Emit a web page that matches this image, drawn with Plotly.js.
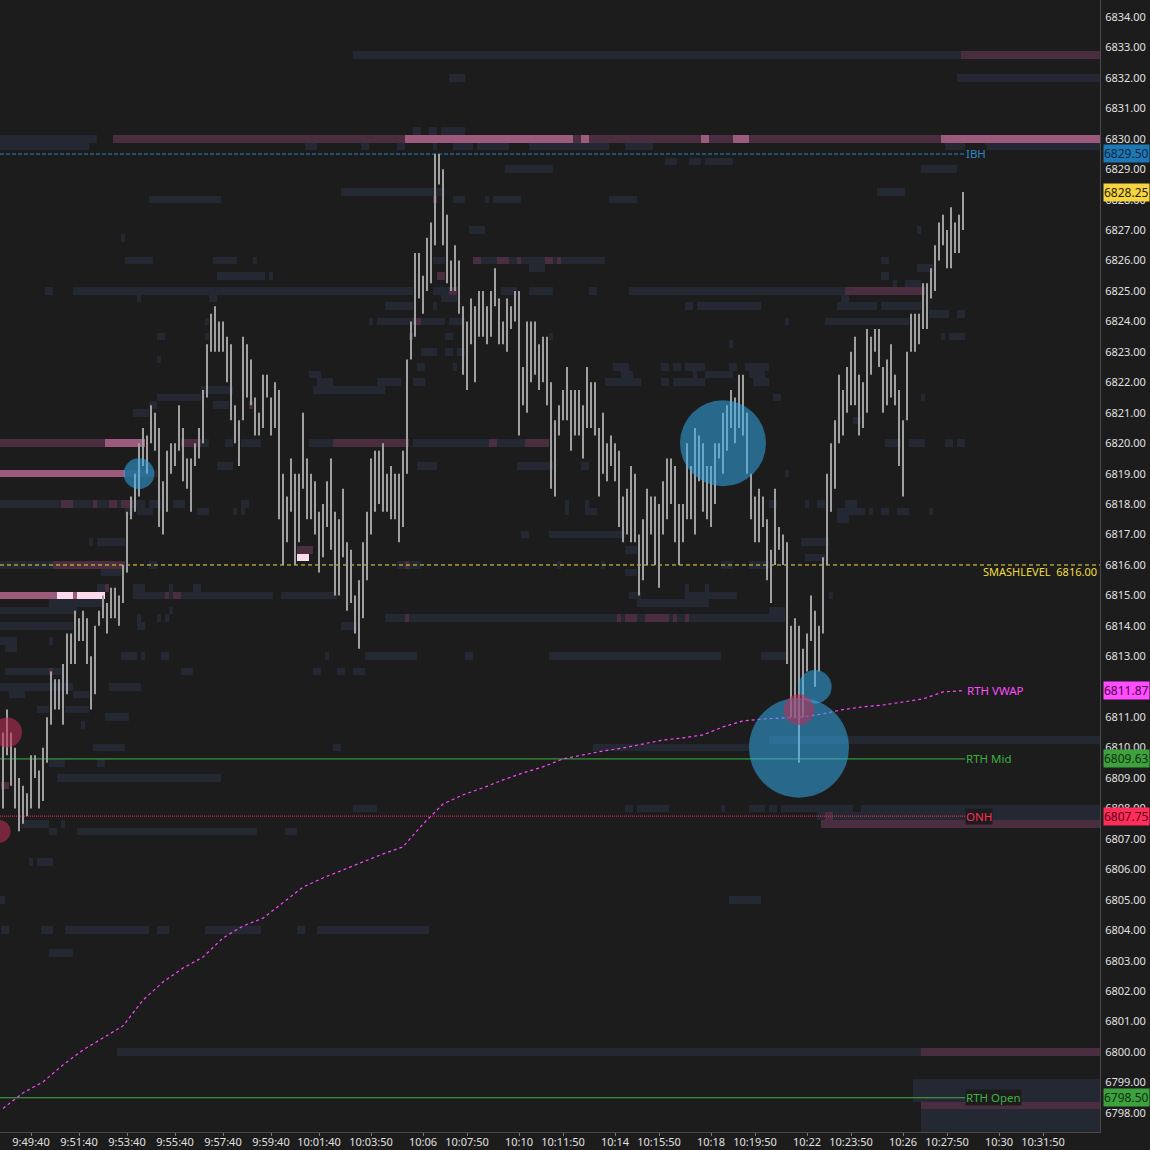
<!DOCTYPE html>
<html><head><meta charset="utf-8">
<script src="https://cdn.plot.ly/plotly-3.0.1.min.js"></script>
<style>html,body{margin:0;padding:0;background:#1c1c1c;}#chart{width:1150px;height:1150px;}</style>
</head><body><div id="chart"></div>
<script>
// ---------------- DATA ----------------
const firstBarTime = '09:48:30';
const barSeconds = 10;
const viewStart = '09:48:22.5';
const viewEnd = '10:34:12.5';
const labelTime = '10:28:35';
const priceMin = 6797.375, priceMax = 6834.558;

const barHigh = [6810.5,6811.25,6810.5,6810.0,6809.0,6808.75,6808.5,6809.75,6809.75,6809.25,
6810.0,6811.0,6812.5,6812.25,6812.25,6812.75,6813.75,6813.75,6814.5,6814.25,
6814.5,6814.25,6813.0,6814.0,6814.5,6815.0,6814.75,6815.25,6815.25,6815.0,
6816.0,6817.75,6818.25,6819.0,6820.0,6820.5,6820.25,6821.25,6821.0,6820.5,
6818.75,6819.75,6820.0,6820.0,6821.25,6820.5,6819.5,6819.5,6820.0,6820.5,
6821.75,6823.25,6824.25,6824.5,6824.0,6824.0,6823.5,6823.25,6821.25,6820.75,
6823.5,6823.25,6822.75,6821.5,6821.0,6822.25,6822.25,6821.5,6822.0,6821.75,
6819.0,6818.25,6819.5,6819.0,6819.0,6821.0,6819.5,6819.0,6818.75,6817.75,
6818.0,6818.75,6819.5,6817.75,6817.5,6818.5,6816.75,6816.5,6815.0,6815.5,
6816.75,6817.75,6819.5,6819.75,6819.75,6820.0,6819.0,6819.25,6819.0,6819.0,
6819.75,6822.75,6824.0,6826.25,6826.25,6825.5,6826.75,6827.25,6829.5,6829.5,
6829.0,6827.5,6826.0,6826.5,6826.0,6824.5,6824.0,6824.75,6824.5,6825.0,
6825.0,6824.5,6825.0,6825.75,6824.75,6824.0,6824.75,6824.5,6825.0,6825.0,
6822.5,6824.0,6824.0,6824.0,6823.25,6823.5,6823.5,6822.0,6820.75,6821.25,
6821.75,6822.5,6821.75,6821.75,6821.75,6821.25,6822.5,6822.0,6822.0,6820.5,
6821.0,6820.0,6820.25,6820.0,6819.75,6818.25,6818.5,6819.25,6819.0,6817.0,
6817.5,6818.5,6818.25,6818.25,6818.0,6818.75,6819.5,6819.5,6819.25,6818.0,
6818.0,6820.0,6819.25,6820.5,6820.25,6820.0,6819.25,6819.25,6820.0,6820.0,
6821.0,6821.25,6821.75,6821.5,6822.25,6822.25,6821.0,6819.0,6818.25,6818.5,
6818.25,6817.5,6816.5,6818.5,6817.25,6817.0,6816.75,6814.0,6814.25,6814.0,
6813.25,6813.75,6815.0,6814.5,6814.0,6816.25,6819.0,6820.0,6820.75,6822.25,
6821.75,6822.5,6823.0,6823.5,6822.25,6822.0,6823.75,6823.5,6823.75,6823.75,
6822.5,6822.75,6823.25,6822.25,6821.75,6820.75,6823.0,6824.25,6824.25,6824.25,
6825.25,6825.25,6825.75,6826.5,6827.25,6827.5,6827.0,6827.75,6827.25,6827.5,
6828.25];
const barLow = [6808.0,6809.75,6808.75,6808.0,6807.25,6807.5,6807.75,6808.0,6809.0,6808.0,
6808.25,6809.5,6810.75,6811.25,6811.25,6810.75,6811.75,6812.75,6812.75,6813.5,
6813.5,6812.75,6811.25,6811.75,6814.0,6814.25,6813.75,6814.25,6814.25,6814.0,
6814.75,6815.75,6817.5,6817.75,6818.25,6819.25,6819.0,6820.0,6819.75,6817.25,
6817.0,6817.75,6819.0,6819.25,6819.75,6818.75,6818.5,6817.75,6819.25,6819.5,
6820.0,6821.5,6823.0,6823.0,6823.0,6823.0,6822.0,6820.75,6820.0,6819.25,
6820.75,6821.5,6821.25,6820.25,6820.25,6820.5,6821.5,6820.25,6820.5,6817.5,
6816.0,6816.75,6817.75,6816.0,6816.75,6818.5,6817.5,6817.5,6817.0,6815.75,
6816.25,6817.25,6816.5,6815.0,6815.0,6816.25,6814.5,6814.75,6813.75,6813.25,
6814.25,6815.5,6817.0,6817.75,6818.0,6817.75,6817.75,6817.5,6817.5,6816.75,
6817.25,6819.0,6822.75,6823.5,6824.75,6824.25,6825.0,6825.25,6826.5,6828.5,
6826.5,6825.25,6825.0,6825.0,6824.25,6822.25,6821.75,6823.25,6822.0,6823.5,
6823.5,6823.25,6823.5,6824.5,6823.25,6823.25,6823.0,6823.75,6824.0,6820.25,
6821.25,6821.0,6822.0,6822.25,6821.75,6822.0,6821.25,6818.5,6818.25,6820.25,
6820.75,6820.75,6819.75,6820.25,6820.25,6819.5,6820.5,6820.5,6820.25,6818.25,
6819.0,6818.75,6819.25,6818.75,6817.25,6816.75,6817.0,6816.75,6816.75,6815.0,
6815.5,6816.0,6817.0,6816.0,6815.25,6817.0,6817.5,6818.0,6816.75,6816.0,
6816.75,6817.5,6817.5,6817.0,6818.75,6817.75,6817.5,6817.25,6818.0,6819.5,
6819.0,6819.75,6820.5,6820.0,6820.5,6820.25,6819.0,6817.5,6816.75,6816.75,
6817.25,6815.5,6814.75,6816.0,6816.5,6816.0,6812.75,6811.0,6811.0,6809.5,
6811.0,6812.5,6813.5,6812.0,6812.5,6813.75,6816.0,6817.75,6818.5,6820.0,
6820.25,6821.0,6821.25,6821.25,6820.25,6820.5,6821.0,6822.25,6823.0,6822.5,
6821.0,6821.25,6821.5,6821.25,6819.25,6818.25,6820.75,6823.0,6823.0,6823.25,
6823.75,6823.75,6824.75,6825.0,6826.0,6826.5,6825.75,6825.75,6826.25,6826.25,
6827.0];

// RTH VWAP, one value every 5 bars
const vwapEveryBars = 5;
const vwap = [6798.15,6798.66,6799.02,6799.58,6800.07,6800.46,6800.86,6801.71,6802.30,6802.76,
6803.12,6803.75,6804.14,6804.40,6804.90,6805.42,6805.72,6805.98,6806.24,6806.51,
6806.74,6807.49,6808.15,6808.45,6808.68,6808.94,6809.17,6809.37,6809.63,6809.76,
6809.89,6809.99,6810.12,6810.25,6810.32,6810.42,6810.68,6810.88,6810.94,6810.97,
6811.01,6811.11,6811.25,6811.34,6811.40,6811.50,6811.60,6811.83,6811.87];

// key levels
const levelLabels = ['IBH','RTH Mid','ONH','RTH Open'];
const levelPrices = [6829.50, 6809.63, 6807.75, 6798.50];
const smashLabel = 'SMASHLEVEL';
const smashPrice = 6816.00;
const vwapLabel = 'RTH VWAP';
const lastPrice = 6828.25;

// big trades (bar index, price, volume, side)
const bubbleBar = [-1, 1, 34, 180, 199, 203, 199];
const bubblePrice = [6807.25, 6810.5, 6819.0, 6820.0, 6810.0, 6812.0, 6811.25];
const bubbleVol = [53, 90, 94, 740, 1000, 111, 94];
const bubbleSide = ['sell','sell','buy','buy','buy','buy','sell'];

// x-axis labels
const tickTimes = ['09:49:40','09:51:40','09:53:40','09:55:40','09:57:40','09:59:40','10:01:40','10:03:50','10:06:00','10:07:50','10:10:00','10:11:50','10:14:00','10:15:50','10:18:00','10:19:50','10:22:00','10:23:50','10:26:00','10:27:50','10:30:00','10:31:50'];
const tickText = ['9:49:40','9:51:40','9:53:40','9:55:40','9:57:40','9:59:40','10:01:40','10:03:50','10:06','10:07:50','10:10','10:11:50','10:14','10:15:50','10:18','10:19:50','10:22','10:23:50','10:26','10:27:50','10:30','10:31:50'];

// resting liquidity (price, first snapshot, end snapshot) by intensity
const heatPriceLow = 6797.5, heatPriceHigh = 6834.5;
const heatColFirst = -1, heatColLast = 275;
const slateSegs = [
[6832.75,88,240],[6832.0,239,275],[6832.0,112,116],
[6830.25,103,105],[6830.25,107,109],[6830.25,110,116],
[6830.0,-1,24],
[6829.75,-1,22],[6829.75,76,79],[6829.75,90,92],[6829.75,99,101],[6829.75,108,109],[6829.75,113,118],[6829.75,119,127],[6829.75,132,152],[6829.75,156,163],[6829.75,236,241],[6829.75,246,275],
[6829.25,166,169],[6829.25,172,175],[6829.25,176,183],
[6829.0,126,138],[6829.0,230,239],
[6828.25,85,111],[6828.25,219,226],
[6828.0,37,55],[6828.0,113,116],[6828.0,121,122],[6828.0,123,130],[6828.0,152,159],
[6827.0,117,121],[6827.0,229,230],
[6826.75,30,31],
[6826.0,31,38],[6826.0,53,59],[6826.0,63,64],[6826.0,108,111],[6826.0,120,124],[6826.0,127,129],[6826.0,130,136],[6826.0,138,139],[6826.0,140,151],[6826.0,220,222],
[6825.75,132,136],[6825.75,229,233],
[6825.5,54,66],[6825.5,67,68],[6825.5,220,222],
[6825.25,223,224],[6825.25,226,230],
[6825.0,11,13],[6825.0,18,103],[6825.0,108,112],[6825.0,125,129],[6825.0,132,138],[6825.0,147,149],[6825.0,157,211],
[6824.75,34,35],[6824.75,52,54],[6824.75,110,114],[6824.75,210,212],
[6824.5,96,103],[6824.5,108,109],[6824.5,171,173],[6824.5,174,190],[6824.5,209,219],[6824.5,220,230],
[6824.25,232,237],[6824.25,239,241],
[6824.0,51,52],[6824.0,92,93],[6824.0,94,103],[6824.0,105,111],[6824.0,112,116],[6824.0,196,197],[6824.0,206,227],
[6823.5,39,41],[6823.5,51,52],[6823.5,111,113],[6823.5,137,138],[6823.5,235,236],[6823.5,237,241],
[6823.25,182,183],
[6823.0,105,109],[6823.0,111,113],[6823.0,114,116],
[6822.75,39,40],
[6822.5,104,106],[6822.5,113,114],[6822.5,153,157],[6822.5,165,167],[6822.5,168,170],[6822.5,171,176],[6822.5,182,184],[6822.5,186,192],
[6822.25,77,80],[6822.25,155,158],[6822.25,173,174],[6822.25,176,183],[6822.25,187,191],
[6822.0,79,83],[6822.0,94,100],[6822.0,103,106],[6822.0,151,160],[6822.0,165,167],[6822.0,168,176],[6822.0,188,192],
[6821.75,50,58],[6821.75,78,96],
[6821.5,39,50],[6821.5,193,195],[6821.5,230,231],
[6821.25,37,39],[6821.25,53,57],
[6821.0,33,37],
[6820.75,213,215],
[6820.0,50,52],[6820.0,56,58],[6820.0,60,65],[6820.0,77,83],[6820.0,103,122],[6820.0,124,131],[6820.0,221,225],[6820.0,227,231],[6820.0,236,238],[6820.0,239,241],
[6819.25,54,58],[6819.25,104,109],[6819.25,129,138],[6819.25,145,147],
[6819.0,31,39],[6819.0,196,197],
[6818.0,-1,15],[6818.0,18,23],[6818.0,24,27],[6818.0,29,30],[6818.0,33,36],[6818.0,37,40],[6818.0,43,46],[6818.0,60,62],[6818.0,141,142],[6818.0,146,147],[6818.0,192,194],[6818.0,201,202],[6818.0,204,206],[6818.0,211,214],
[6817.75,31,33],[6817.75,34,38],[6817.75,49,52],[6817.75,58,59],[6817.75,60,61],[6817.75,141,142],[6817.75,146,149],[6817.75,209,216],[6817.75,217,218],[6817.75,220,222],[6817.75,224,227],[6817.75,232,233],
[6817.5,209,212],
[6817.0,130,132],[6817.0,137,156],
[6816.75,22,23],[6816.75,24,31],[6816.75,200,207],
[6816.5,156,159],
[6816.25,201,206],
[6816.0,-1,13],[6816.0,37,39],[6816.0,99,101],[6816.0,102,105],[6816.0,139,140],[6816.0,150,151],[6816.0,180,183],[6816.0,187,192],
[6815.75,25,30],[6815.75,156,159],
[6815.25,24,26],[6815.25,33,36],[6815.25,42,43],[6815.25,48,50],[6815.25,171,172],[6815.25,176,177],
[6815.0,33,41],[6815.0,42,43],[6815.0,45,68],[6815.0,70,84],[6815.0,157,160],[6815.0,171,184],[6815.0,207,208],
[6814.75,12,26],[6814.75,159,177],
[6814.5,-1,19],[6814.5,42,43],[6814.5,192,196],
[6814.25,34,35],[6814.25,39,40],[6814.25,41,42],[6814.25,96,101],[6814.25,102,154],[6814.25,155,156],[6814.25,159,161],[6814.25,167,168],[6814.25,169,171],[6814.25,172,196],
[6814.0,-1,18],[6814.0,34,36],[6814.0,85,89],
[6813.5,-1,4],[6813.5,12,13],
[6813.25,1,4],
[6813.0,30,34],[6813.0,35,36],[6813.0,40,42],[6813.0,81,82],[6813.0,91,104],[6813.0,116,118],[6813.0,137,180],[6813.0,190,197],
[6812.5,1,12],[6812.5,13,15],[6812.5,45,48],[6812.5,78,80],[6812.5,84,86],[6812.5,88,91],
[6812.0,-1,18],[6812.0,27,35],
[6811.75,2,6],[6811.75,18,22],
[6811.25,9,12],[6811.25,16,22],
[6811.0,26,32],
[6810.75,20,21],
[6810.25,192,275],
[6810.0,23,31],[6810.0,83,85],[6810.0,148,187],
[6809.5,12,16],[6809.5,24,26],
[6809.0,14,55],
[6808.0,88,94],[6808.0,156,158],[6808.0,159,167],[6808.0,180,181],[6808.0,187,191],[6808.0,192,194],[6808.0,195,213],[6808.0,215,275],
[6807.75,204,206],[6807.75,208,275],
[6807.5,5,12],[6807.5,15,16],
[6807.25,12,14],[6807.25,19,64],[6807.25,71,74],
[6806.25,7,8],[6806.25,9,13],
[6805.0,-1,1],[6805.0,182,190],
[6804.0,0,2],[6804.0,10,13],[6804.0,16,37],[6804.0,39,42],[6804.0,51,65],[6804.0,74,76],[6804.0,79,107],
[6803.25,12,18],
[6800.0,29,230],
[6799.0,228,275],[6798.75,228,275],[6798.5,228,275],[6798.0,230,275],[6797.75,230,275],[6797.5,230,275]
];
const mauveSegs = [
[6832.75,240,275],
[6830.0,28,101],[6830.0,143,145],[6830.0,147,175],[6830.0,177,183],[6830.0,187,235],
[6828.0,108,109],
[6826.0,118,120],[6826.0,124,127],[6826.0,129,130],[6826.0,136,138],[6826.0,139,140],
[6825.5,109,111],
[6825.0,112,114],[6825.0,211,231],
[6824.0,103,105],
[6823.5,102,103],
[6821.25,62,63],
[6820.0,-1,26],[6820.0,45,50],[6820.0,83,102],[6820.0,122,124],[6820.0,131,137],
[6818.0,15,18],[6818.0,23,24],[6818.0,27,29],[6818.0,30,33],
[6816.5,74,78],
[6816.0,13,31],[6816.0,101,102],
[6815.25,26,27],
[6815.0,41,42],[6815.0,43,45],
[6814.25,101,102],[6814.25,154,155],[6814.25,156,159],[6814.25,161,167],[6814.25,168,169],[6814.25,171,172],
[6812.5,12,13],
[6808.75,0,2],
[6807.75,206,208],
[6807.5,205,275],
[6800.0,230,275],
[6798.25,230,275]
];
const pinkSegs = [
[6830.0,101,143],[6830.0,145,147],[6830.0,175,177],[6830.0,183,187],[6830.0,235,275],
[6820.0,26,36],
[6819.0,-1,31],
[6815.0,-1,14],[6815.0,18,19]
];
const lightSegs = [
[6816.25,74,77],
[6815.0,14,18],[6815.0,19,26]
];

// ---------------- BUILD ----------------
const dayMs = Date.UTC(2025, 9, 24);
function hmsMs(s){const p=s.split(':').map(Number);return dayMs+Math.round((p[0]*3600+p[1]*60+(p[2]||0))*1000);}
function fmt(ms){return new Date(ms).toISOString().replace('T',' ').replace('Z','');}
const bar0 = hmsMs(firstBarTime), stepMs = barSeconds*1000;
const barTime = k => fmt(bar0 + k*stepMs);
const xStart = fmt(hmsMs(viewStart)), xEnd = fmt(hmsMs(viewEnd)), xLabel = fmt(hmsMs(labelTime));

// heatmap grid
const colK = []; for(let k=heatColFirst;k<=heatColLast;k++) colK.push(k);
const heatX = colK.map(barTime);
const heatY = []; for(let i=0; heatPriceLow+i*0.25<=heatPriceHigh+1e-9; i++) heatY.push(heatPriceLow+i*0.25);
const z = heatY.map(()=>colK.map(()=>null));
function paint(segs,lvl){segs.forEach(s=>{const r=Math.round((s[0]-heatPriceLow)/0.25);for(let k=s[1];k<s[2];k++){const c=k-heatColFirst;if(r>=0&&r<heatY.length&&c>=0&&c<colK.length)z[r][c]=lvl;}});}
paint(slateSegs,1);paint(mauveSegs,2);paint(pinkSegs,3);paint(lightSegs,4);

const traces = [];
traces.push({type:'heatmap',x:heatX,y:heatY,z:z,zmin:1,zmax:4,showscale:false,hoverinfo:'skip',
  colorscale:[[0,'#242833'],[0.3333,'#4a2d3e'],[0.6667,'#9c5a7d'],[1,'#fbdbeb']]});

// level lines
const levelColors = ['#2d86c0','#3cb043','#ff2d5a','#3cb043'];
const levelDash = ['4px,2px','solid','1px,1px','solid'];
levelLabels.forEach((n,i)=>{
  traces.push({type:'scatter',mode:'lines',x:[xStart,xLabel],y:[levelPrices[i],levelPrices[i]],
    line:{color:levelColors[i],width:1,dash:levelDash[i]},hoverinfo:'skip'});
});
traces.push({type:'scatter',mode:'lines',x:[xStart,xEnd],y:[smashPrice,smashPrice],
  line:{color:'#f2dc3c',width:1,dash:'4px,3px'},hoverinfo:'skip'});

// price bars
const bx=[],by=[];
barHigh.forEach((h,k)=>{const t=barTime(k);bx.push(t,t,null);by.push(barLow[k],h,null);});
traces.push({type:'scatter',mode:'lines',x:bx,y:by,line:{color:'#a0a0a0',width:2},hoverinfo:'skip'});

// vwap
traces.push({type:'scatter',mode:'lines',x:vwap.map((v,i)=>barTime(i*vwapEveryBars)),y:vwap,
  line:{color:'#ff44ff',width:1.2,dash:'3px,3px'},hoverinfo:'skip'});

// bubbles
['buy','sell'].forEach(side=>{
  const idx = bubbleSide.map((s,i)=>s===side?i:-1).filter(i=>i>=0);
  traces.push({type:'scatter',mode:'markers',x:idx.map(i=>barTime(bubbleBar[i])),y:idx.map(i=>bubblePrice[i]),
    marker:{size:idx.map(i=>bubbleVol[i]),sizemode:'area',sizeref:0.2,
      color:side==='buy'?'rgba(52,173,239,0.75)':'rgba(190,47,86,0.8)',line:{width:0}},hoverinfo:'skip'});
});

// annotations
const ann = [];
const labelFont = 11.5;
levelLabels.forEach((n,i)=>{
  ann.push({xref:'x',yref:'y',x:xLabel,y:levelPrices[i],text:n,showarrow:false,xanchor:'left',yanchor:'middle',
    font:{color:levelColors[i],size:labelFont},bgcolor:'#1c1c1c',borderpad:0});
});
ann.push({xref:'x',yref:'y',x:xLabel,y:vwap[vwap.length-1],text:vwapLabel,showarrow:false,xanchor:'left',yanchor:'middle',
  font:{color:'#ff4dff',size:labelFont}});
ann.push({xref:'paper',yref:'y',x:1,y:smashPrice,text:smashLabel+'\u00a0\u00a0'+smashPrice.toFixed(2),showarrow:false,
  xanchor:'right',yanchor:'middle',yshift:-7,xshift:-1,font:{color:'#f2dc3c',size:11}});
// right axis tags
const tagPrices = [levelPrices[0], lastPrice, vwap[vwap.length-1], levelPrices[1], levelPrices[2], levelPrices[3]];
const tagBg = ['#1f77b4','#f5d442','#ff4dff','#3da13d','#ff2d5a','#3da13d'];
const tagFg = ['#0b2a44','#2a2200','#4a004a','#0e300e','#5a0018','#0e300e'];
tagPrices.forEach((p,i)=>{
  ann.push({xref:'paper',yref:'y',x:1,y:p,text:p.toFixed(2),showarrow:false,xanchor:'left',yanchor:'middle',xshift:3,
    font:{color:tagFg[i],size:12},bgcolor:tagBg[i],borderpad:0});
});

const layout = {
  width:1150,height:1150,
  paper_bgcolor:'#1c1c1c',plot_bgcolor:'#1c1c1c',
  margin:{l:0,r:50,t:0,b:18,pad:0},
  showlegend:false,
  font:{family:'Noto Sans, Open Sans, sans-serif',color:'#dedede',size:11},
  xaxis:{type:'date',range:[xStart,xEnd],tickmode:'array',tickvals:tickTimes.map(t=>fmt(hmsMs(t))),ticktext:tickText,
    ticks:'outside',ticklen:3,tickcolor:'#777',showline:true,linecolor:'#4a4a4a',showgrid:false,zeroline:false,
    ticklabelstandoff:-3,automargin:false,tickfont:{size:11,color:'#e0e0e0'},fixedrange:true},
  yaxis:{side:'right',range:[priceMin,priceMax],tick0:6798,dtick:1,tickformat:'.2f',showgrid:false,zeroline:false,
    showline:true,linecolor:'#4a4a4a',ticks:'',ticklabelstandoff:2,automargin:false,tickfont:{size:11,color:'#e0e0e0'},fixedrange:true},
  annotations:ann
};
Plotly.newPlot('chart',traces,layout,{staticPlot:true,displayModeBar:false});
</script></body></html>
